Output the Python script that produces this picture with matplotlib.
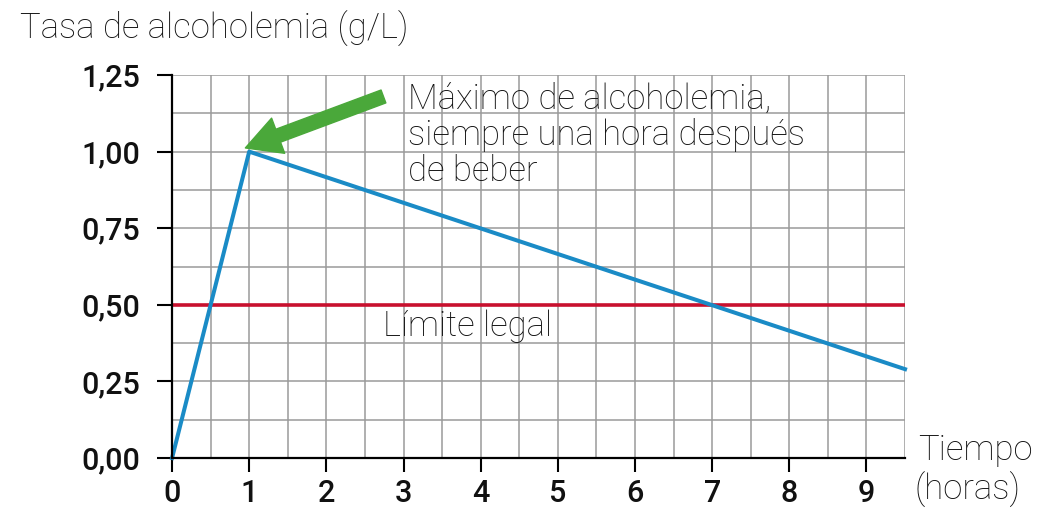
import matplotlib
matplotlib.use('Agg')
import matplotlib.pyplot as plt
from matplotlib.ticker import MultipleLocator

# data
horas = [0, 1, 9.5]
tasa = [0.0, 1.0, 0.29]
limite_legal = 0.5
x_ticks = [0, 1, 2, 3, 4, 5, 6, 7, 8, 9]
y_ticks = [0.0, 0.25, 0.5, 0.75, 1.0, 1.25]
y_labels = ['0,00', '0,25', '0,50', '0,75', '1,00', '1,25']

plt.rcParams['font.family'] = ['Roboto', 'DejaVu Sans']

fig = plt.figure(figsize=(10.44, 5.25), dpi=100)
ax = fig.add_axes([0.1648, 0.1276, 0.7021, 0.7295])

ax.set_xlim(0, 9.5)
ax.set_ylim(0, 1.25)

# grid
ax.xaxis.set_minor_locator(MultipleLocator(0.5))
ax.yaxis.set_minor_locator(MultipleLocator(0.125))
ax.set_xticks(x_ticks)
ax.set_yticks(y_ticks)
ax.set_yticklabels(y_labels)
ax.grid(which='both', color='#9a9a9a', lw=1.1)
ax.set_axisbelow(True)
ax.tick_params(which='minor', length=0)
ax.tick_params(axis='y', which='major', length=11, width=1.5, pad=12, labelsize=22)
ax.tick_params(axis='x', which='major', length=10, width=1.5, pad=5, labelsize=22)
for lab in ax.get_xticklabels() + ax.get_yticklabels():
    lab.set_fontweight('medium')
    lab.set_color('#111111')

for s in ['top', 'right']:
    ax.spines[s].set_visible(False)
for s in ['left', 'bottom']:
    ax.spines[s].set_linewidth(1.6)
    ax.spines[s].set_zorder(5)

# curve and legal limit
ax.axhline(limite_legal, color='#c8102e', lw=2.6, zorder=3)
ax.plot(horas, tasa, color='#1a8bc6', lw=2.9, zorder=4, clip_on=False)

# annotation arrow
ax.annotate('', xy=(0.95, 1.012), xytext=(2.74, 1.18),
            arrowprops=dict(arrowstyle='simple,head_length=1.4,head_width=1.5,tail_width=0.55',
                            color='#4aa83a', mutation_scale=18, shrinkA=0, shrinkB=0),
            zorder=6)

txt = dict(fontsize=25, fontweight='light', color='#111111', ha='left', va='center')
ax.text(3.06, 1.054, 'Máximo de alcoholemia,\nsiempre una hora después\nde beber',
        linespacing=1.1, **txt)
ax.text(2.74, 0.431, 'Límite legal', **txt)

fig.text(0.019, 0.945, 'Tasa de alcoholemia (g/L)', **txt)
fig.text(0.879, 0.142, 'Tiempo', **txt)
fig.text(0.876, 0.066, '(horas)', **txt)

fig.savefig('out.png', dpi=100)
